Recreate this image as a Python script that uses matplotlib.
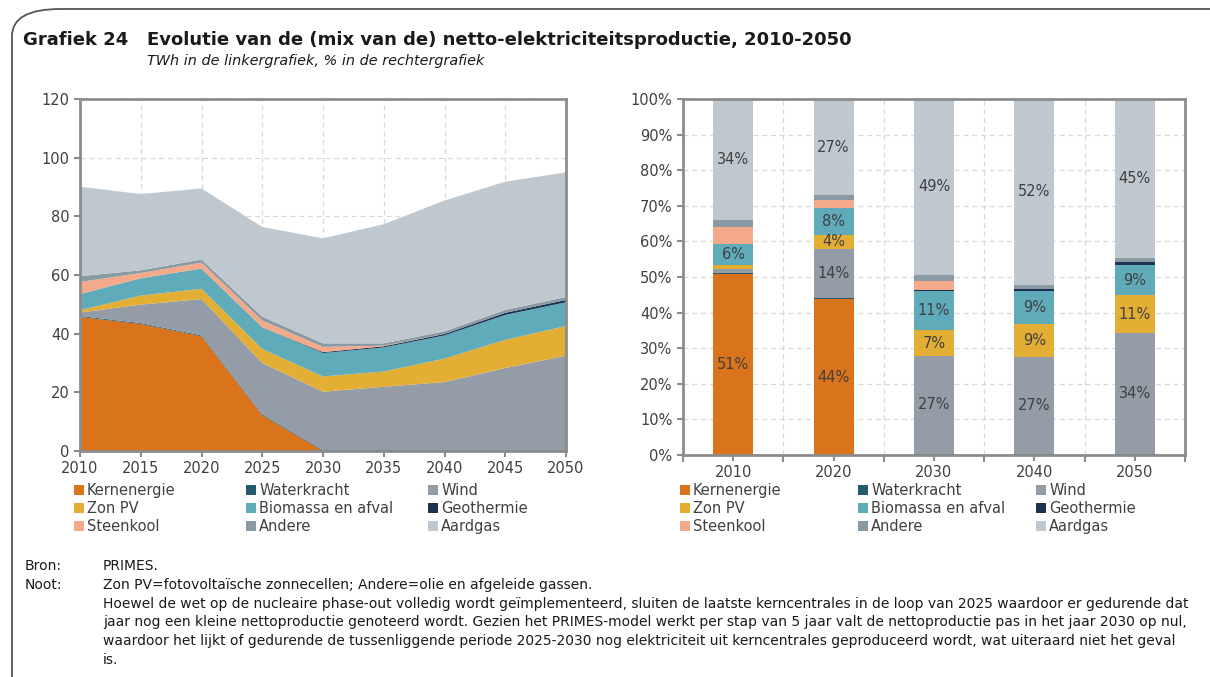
import numpy as np
import matplotlib
matplotlib.use("Agg")
import matplotlib.pyplot as plt
from matplotlib.patches import Patch, FancyBboxPatch

# data (TWh)
years = [2010, 2015, 2020, 2025, 2030, 2035, 2040, 2045, 2050]
kern = [45.7, 43.3, 39.1, 12.2, 0, 0, 0, 0, 0]
water = [0.3, 0.3, 0.3, 0.3, 0.3, 0.3, 0.3, 0.3, 0.3]
wind = [1.2, 6.3, 12.4, 17.5, 19.9, 21.6, 23.2, 28.0, 32.2]
zon = [0.8, 3.1, 3.5, 4.8, 5.2, 5.2, 8.0, 9.6, 10.1]
bio = [5.5, 5.9, 6.9, 7.4, 8.0, 8.2, 7.9, 8.5, 8.1]
geo = [0, 0, 0, 0, 0.3, 0.4, 0.5, 0.7, 0.8]
steen = [4.1, 1.8, 2.0, 2.3, 1.8, 0.2, 0, 0, 0]
andere = [2.0, 0.9, 1.1, 1.3, 1.2, 0.8, 0.9, 1.0, 1.0]
aardgas = [30.5, 26.0, 24.2, 30.6, 35.8, 40.6, 44.6, 43.7, 42.5]

labels = ["Kernenergie", "Waterkracht", "Wind", "Zon PV", "Biomassa en afval",
          "Geothermie", "Steenkool", "Andere", "Aardgas"]
colors = ["#D9731C", "#25596E", "#939CA7", "#E2AE34", "#5FABBA",
          "#1B3350", "#F3A98A", "#8A9AA5", "#C0C8CF"]
series = [kern, water, wind, zon, bio, geo, steen, andere, aardgas]
bar_years = [2010, 2020, 2030, 2040, 2050]
labelled = ["Kernenergie", "Wind", "Zon PV", "Biomassa en afval", "Aardgas"]

txt = "#404040"
spine_c = "#8C8C8C"
plt.rcParams['font.family'] = ['DejaVu Sans']

fig = plt.figure(figsize=(12.1, 6.77), dpi=100)

# rounded frame
frame = FancyBboxPatch((12/1210, -0.1), 1.2, (677-9)/677 + 0.1, transform=fig.transFigure,
                       boxstyle="round,pad=0,rounding_size=0.04", fc="none",
                       ec="#555555", lw=1.3, clip_on=False)
fig.add_artist(frame)

fig.text(23/1210, 1 - 40/677, "Grafiek 24   Evolutie van de (mix van de) netto-elektriciteitsproductie, 2010-2050",
         fontsize=13, fontweight="bold", color="#1a1a1a", va="center")
fig.text(147/1210, 1 - 61/677, "TWh in de linkergrafiek, % in de rechtergrafiek",
         fontsize=10.4, style="italic", color="#1a1a1a", va="center")

# ---- left: stacked area
ax1 = fig.add_axes([80/1210, 1 - 451/677, 486/1210, 352/677])
ax1.stackplot(years, *series, colors=colors, lw=0)
ax1.set_xlim(2010, 2050)
ax1.set_ylim(0, 120)
ax1.set_xticks(years)
ax1.set_yticks(range(0, 121, 20))
ax1.grid(True, ls=(0, (4, 3)), color="#D9D9D9", lw=0.9)
ax1.set_axisbelow(True)

# ---- right: 100% stacked bars
ax2 = fig.add_axes([683/1210, 1 - 455/677, 502/1210, 356/677])
idx = [years.index(y) for y in bar_years]
tot = np.array([sum(s[i] for s in series) for i in idx])
xpos = np.arange(len(bar_years))
bottom = np.zeros(len(bar_years))
for lab, col, s in zip(labels, colors, series):
    pct = np.array([s[i] for i in idx]) / tot * 100
    ax2.bar(xpos, pct, width=0.4, bottom=bottom, color=col, lw=0)
    if lab in labelled:
        for x, b, p in zip(xpos, bottom, pct):
            if p >= 3.5:
                ax2.text(x, b + p / 2, f"{p:.0f}%", ha="center", va="center",
                         fontsize=10.5, color=txt)
    bottom += pct
ax2.set_xlim(-0.5, len(bar_years) - 0.5)
ax2.set_ylim(0, 100)
ax2.set_yticks(range(0, 101, 10))
ax2.set_yticklabels([f"{v}%" for v in range(0, 101, 10)])
ax2.set_xticks(xpos)
ax2.set_xticklabels([str(y) for y in bar_years])
ax2.set_xticks(np.arange(-0.5, len(bar_years)), minor=True)
ax2.tick_params(axis="x", which="major", length=0)
ax2.tick_params(axis="x", which="minor", length=5, color=spine_c, width=1.5)
ax2.grid(True, axis="y", ls=(0, (4, 3)), color="#D9D9D9", lw=0.9)
ax2.grid(True, axis="x", which="minor", ls=(0, (4, 3)), color="#D9D9D9", lw=0.9)
ax2.set_axisbelow(True)

for ax in (ax1, ax2):
    for sp in ax.spines.values():
        sp.set_color(spine_c)
        sp.set_linewidth(2)
    ax.tick_params(labelsize=10.5, labelcolor=txt, color=spine_c, width=1.5, length=4)

# legends: one small legend per column, entries row by row as in the source
columns = [[0, 3, 6], [1, 4, 7], [2, 5, 8]]
for xs in ((74, 246, 428), (680, 858, 1036)):
    for x0, col in zip(xs, columns):
        fig.legend([Patch(fc=colors[i], ec="none") for i in col],
                   [labels[i] for i in col], loc="upper left",
                   bbox_to_anchor=(x0/1210, 1 - 483/677),
                   frameon=False, fontsize=10.5, handlelength=0.7, handleheight=0.7,
                   handletextpad=0.2, labelspacing=0.2, borderpad=0, borderaxespad=0,
                   labelcolor=txt)

# notes
note_font = dict(fontsize=10.0, color="#1a1a1a")
fig.text(25/1210, 1 - 566/677, "Bron:", va="center", **note_font)
fig.text(103/1210, 1 - 566/677, "PRIMES.", va="center", **note_font)
fig.text(25/1210, 1 - 585/677, "Noot:", va="center", **note_font)
note_lines = [
    "Zon PV=fotovoltaïsche zonnecellen; Andere=olie en afgeleide gassen.",
    "Hoewel de wet op de nucleaire phase-out volledig wordt geïmplementeerd, sluiten de laatste kerncentrales in de loop van 2025 waardoor er gedurende dat",
    "jaar nog een kleine nettoproductie genoteerd wordt. Gezien het PRIMES-model werkt per stap van 5 jaar valt de nettoproductie pas in het jaar 2030 op nul,",
    "waardoor het lijkt of gedurende de tussenliggende periode 2025-2030 nog elektriciteit uit kerncentrales geproduceerd wordt, wat uiteraard niet het geval",
    "is.",
]
for k, line in enumerate(note_lines):
    fig.text(103/1210, 1 - (585 + 18.7*k)/677, line, va="center", **note_font)

fig.savefig("out.png", dpi=100)
